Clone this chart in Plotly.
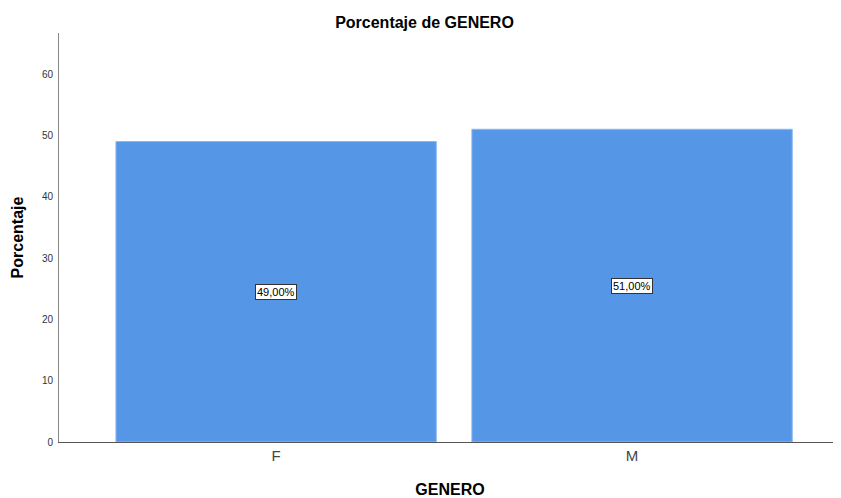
import plotly.graph_objects as go

categories = ["F", "M"]
percentages = [49.0, 51.0]
value_labels = ["49,00%", "51,00%"]
y_ticks = [0, 10, 20, 30, 40, 50, 60]

FONT = "Liberation Sans, Arial, sans-serif"

fig = go.Figure()
fig.add_trace(go.Bar(
    x=categories, y=percentages, width=0.9,
    marker=dict(color="#5596E6", line=dict(color="#8DB8EE", width=1)),
    hoverinfo="skip",
))

for c, v, t in zip(categories, percentages, value_labels):
    fig.add_annotation(
        x=c, y=v / 2, text=t, showarrow=False,
        font=dict(family=FONT, size=11, color="#000000"),
        bgcolor="#FFFFFF", bordercolor="#333333", borderwidth=1, borderpad=1,
    )

fig.update_layout(
    width=833, height=490,
    margin=dict(l=51, r=0, t=25, b=56),
    paper_bgcolor="#FFFFFF", plot_bgcolor="#FFFFFF",
    font=dict(family=FONT, color="#000000"),
    showlegend=False,
    title=dict(text="<b>Porcentaje de GENERO</b>", x=0.5, xanchor="center",
               y=0.9714, yanchor="middle", font=dict(size=16, family=FONT)),
    xaxis=dict(
        type="category", range=[-0.61, 1.587], automargin=False,
        showline=True, linecolor="#555555", linewidth=1,
        ticks="", showgrid=False, zeroline=False,
        tickfont=dict(size=15, color="#444444", family=FONT),
        title=dict(text="<b>GENERO</b>", font=dict(size=16, family=FONT), standoff=22),
    ),
    yaxis=dict(
        range=[0, 66.7], tickvals=y_ticks, automargin=False,
        showline=True, linecolor="#888888", linewidth=1,
        ticks="", showgrid=False, zeroline=False, ticklabelstandoff=3,
        tickfont=dict(size=10, color="#333333", family=FONT),
        title=dict(text="<b>Porcentaje</b>", font=dict(size=16, family=FONT), standoff=14),
    ),
)

fig.write_html("out.html")
